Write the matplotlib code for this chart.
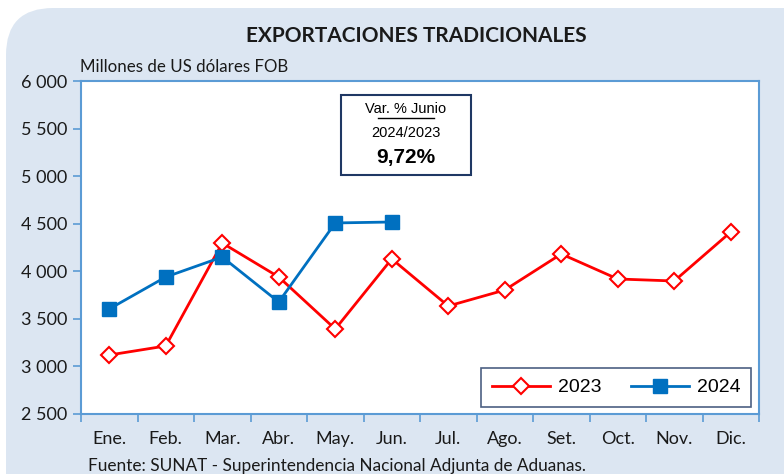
import matplotlib
matplotlib.use("Agg")
import matplotlib.pyplot as plt
from matplotlib.patches import FancyBboxPatch, Rectangle
from matplotlib.lines import Line2D
from matplotlib.ticker import FixedLocator, FuncFormatter

months = ["Ene.", "Feb.", "Mar.", "Abr.", "May.", "Jun.", "Jul.", "Ago.", "Set.", "Oct.", "Nov.", "Dic."]
exp_2023 = [3120, 3215, 4297, 3940, 3393, 4130, 3635, 3803, 4182, 3919, 3898, 4413]
exp_2024 = [3604, 3940, 4150, 3677, 4508, 4518]
y_ticks = [2500, 3000, 3500, 4000, 4500, 5000, 5500, 6000]

BG = "#DCE6F2"
SPINE = "#5B9BD5"
NAVY = "#1F3864"

fig = plt.figure(figsize=(7.84, 4.74), dpi=100)
fig.patch.set_facecolor("white")

# rounded light-blue background panel
bg = FancyBboxPatch((6 / 784, -0.2), 1.2, 1.2 - 8 / 474, boxstyle="round,pad=0,rounding_size=0.06",
                    transform=fig.transFigure, facecolor=BG, edgecolor="none",
                    mutation_aspect=784 / 474, zorder=-10)
fig.patches.append(bg)

ax = fig.add_axes([81 / 784, 60 / 474, 678 / 784, 333 / 474])
ax.set_facecolor("white")

x = list(range(len(months)))
ax.plot(x, exp_2023, color="#FF0000", lw=2, marker="D", markersize=8,
        markerfacecolor="white", markeredgecolor="#FF0000", markeredgewidth=1.5, label="2023", zorder=3)
ax.plot(x[:len(exp_2024)], exp_2024, color="#0070C0", lw=2, marker="s", markersize=10,
        markerfacecolor="#0070C0", markeredgecolor="#0070C0", label="2024", zorder=4)

ax.set_xlim(-0.5, 11.5)
ax.set_ylim(2500, 6000)
ax.set_yticks(y_ticks)
ax.yaxis.set_major_formatter(FuncFormatter(lambda v, p: f"{int(v):,}".replace(",", " ")))
ax.set_xticks(x)
ax.set_xticklabels(months)
ax.xaxis.set_minor_locator(FixedLocator([i - 0.5 for i in range(13)]))
ax.tick_params(axis="x", which="major", length=0, pad=12, labelsize=13, labelcolor="#1a1a1a")
ax.tick_params(axis="x", which="minor", length=6, color=SPINE, width=1.2, direction="out")
ax.tick_params(axis="y", length=6, color=SPINE, width=1.2, labelsize=13, labelcolor="#1a1a1a", pad=4)
for lab in ax.get_xticklabels() + ax.get_yticklabels():
    lab.set_fontfamily("Lato")
for s in ax.spines.values():
    s.set_color(SPINE)
    s.set_linewidth(1.5)

leg = ax.legend(loc="lower right", ncol=2, frameon=True, fancybox=False,
                prop={"family": "Liberation Sans", "size": 14}, handlelength=3.0,
                columnspacing=1.5, borderpad=0.55, borderaxespad=0, handletextpad=0.4,
                bbox_to_anchor=(670 / 678, 7 / 333))
leg.get_frame().set_edgecolor(NAVY)
leg.get_frame().set_linewidth(1.2)

fig.text(416 / 784, 1 - 36 / 474, "EXPORTACIONES TRADICIONALES", ha="center", va="center",
         fontsize=15, fontweight="bold", family="Lato", color="#1a1a1a")
fig.text(80 / 784, 1 - 67 / 474, "Millones de US dólares FOB", ha="left", va="center",
         fontsize=12.2, family="Lato", color="#1a1a1a")

# annotation box
box = Rectangle((341 / 784, 1 - 175 / 474), 130 / 784, 80 / 474, transform=fig.transFigure,
                facecolor="white", edgecolor=NAVY, linewidth=1.5, zorder=5)
fig.patches.append(box)
fig.text(406 / 784, 1 - 109 / 474, "Var. % Junio", ha="center", va="center",
         fontsize=10.5, family="Liberation Sans", zorder=6)
fig.lines.append(Line2D([378 / 784, 434 / 784], [1 - 118 / 474, 1 - 118 / 474],
                        transform=fig.transFigure, color="black", lw=1, zorder=6))
fig.text(406 / 784, 1 - 133 / 474, "2024/2023", ha="center", va="center",
         fontsize=10.5, family="Liberation Sans", zorder=6)
fig.text(406 / 784, 1 - 158 / 474, "9,72%", ha="center", va="center",
         fontsize=15, fontweight="bold", family="Liberation Sans", zorder=6)

fig.text(88 / 784, 1 - 466 / 474, "Fuente: SUNAT - Superintendencia Nacional Adjunta de Aduanas.",
         ha="left", va="center", fontsize=12.4, family="Lato", color="#1a1a1a")

fig.savefig("out.png", dpi=100)
